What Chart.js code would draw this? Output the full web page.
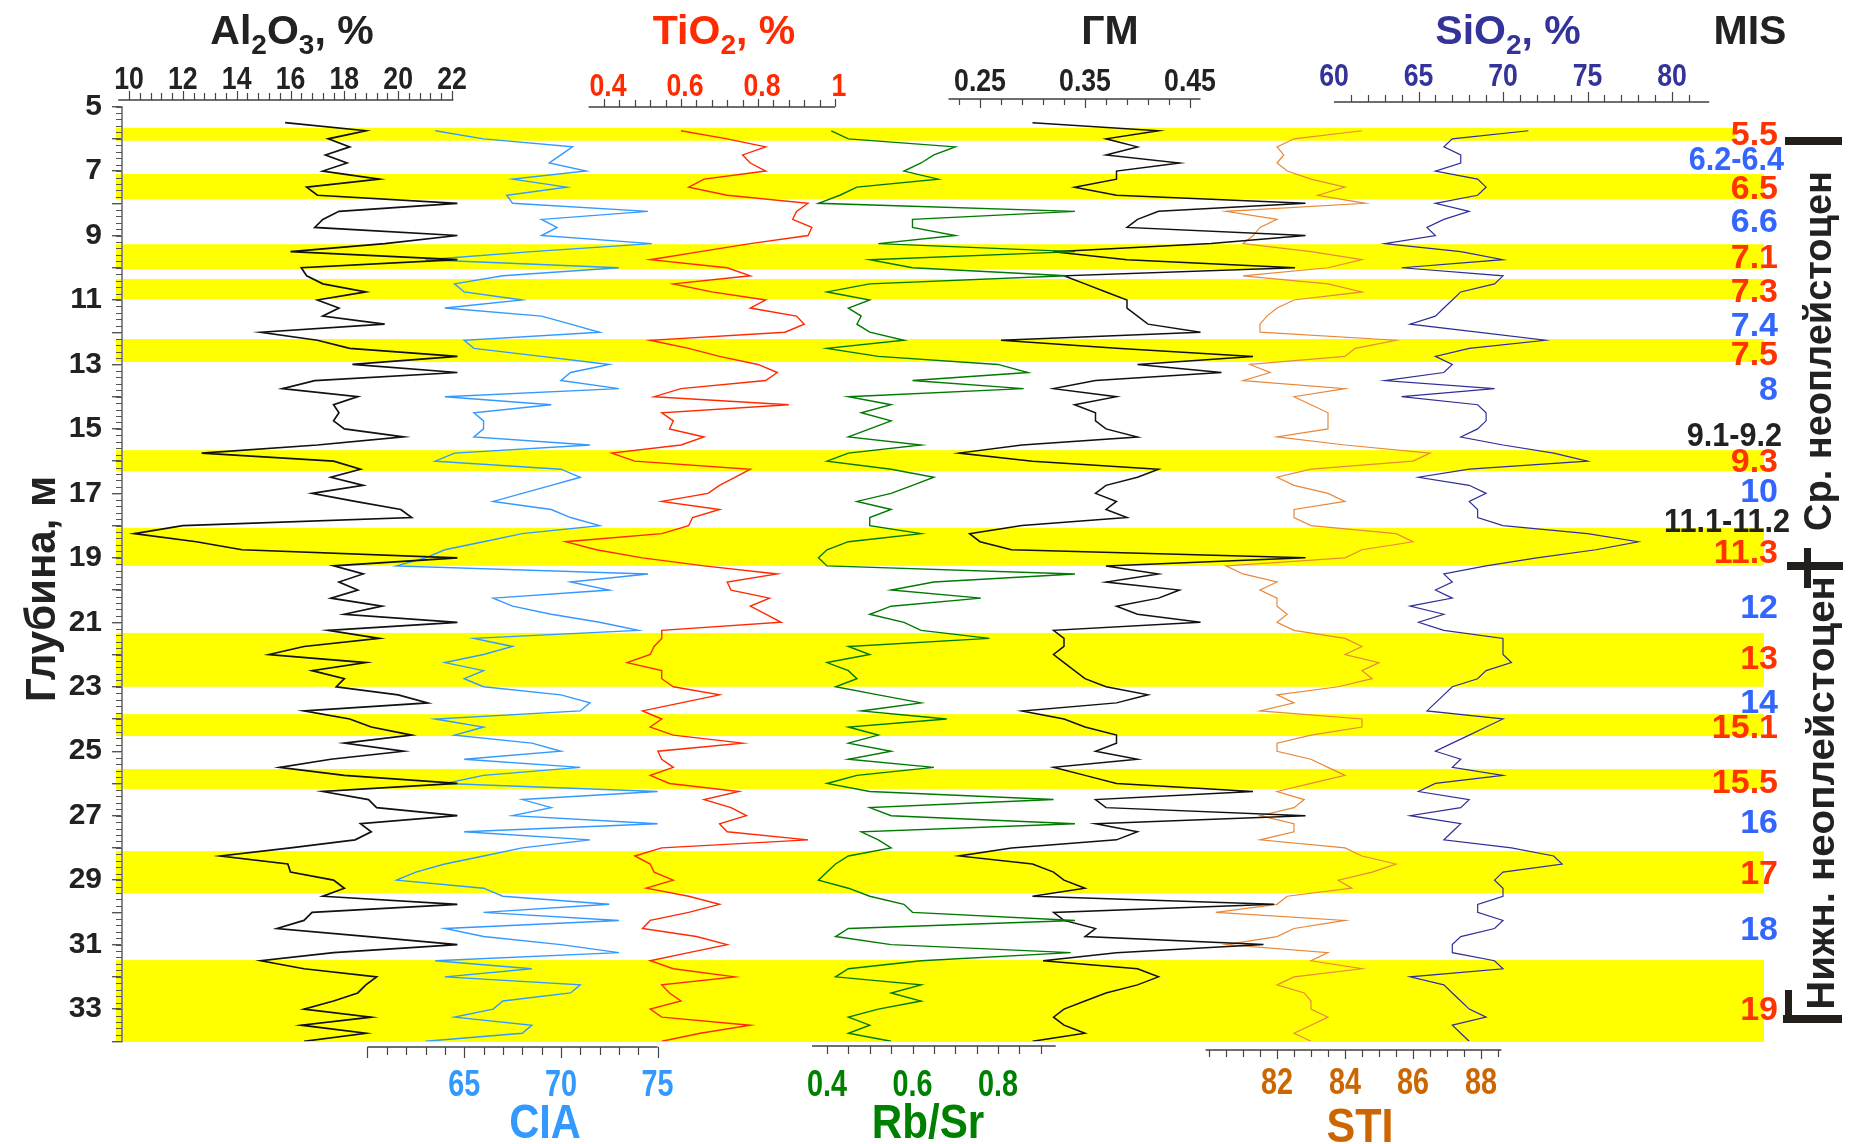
<!DOCTYPE html>
<html><head><meta charset="utf-8">
<script src="https://cdn.jsdelivr.net/npm/chart.js@4.4.1/dist/chart.umd.min.js"></script>
<style>html,body{margin:0;padding:0;background:#fff;}#wrap{width:1857px;height:1144px;}</style>
</head><body><div id="wrap"><canvas id="c" width="1857" height="1144"></canvas></div>
<script>
// ---------- DATA ----------
const depth = [5.5,5.75,6,6.25,6.5,6.75,7,7.25,7.5,7.75,8,8.25,8.5,8.75,9,9.25,9.5,9.75,10,10.25,10.5,10.75,11,11.25,11.5,11.75,12,12.25,12.5,12.75,13,13.25,13.5,13.75,14,14.25,14.5,14.75,15,15.25,15.5,15.75,16,16.25,16.5,16.75,17,17.25,17.5,17.75,18,18.25,18.5,18.75,19,19.25,19.5,19.75,20,20.25,20.5,20.75,21,21.25,21.5,21.75,22,22.25,22.5,22.75,23,23.25,23.5,23.75,24,24.25,24.5,24.75,25,25.25,25.5,25.75,26,26.25,26.5,26.75,27,27.25,27.5,27.75,28,28.25,28.5,28.75,29,29.25,29.5,29.75,30,30.25,30.5,30.75,31,31.25,31.5,31.75,32,32.25,32.5,32.75,33,33.25,33.5,33.75,34];

const al2o3 = [15.8,18.8, 17.4,18.2,17.3,18.1, 17.2,19.3,16.6,17.0, 22.2,17.8,17.2,16.9, 22.2,19.5,16.0,22.2, 16.4,16.6,17.2,18.8, 17.0,17.8,17.2,19.5, 14.9,17.0,18.2,22.2, 18.3,22.2,16.9,15.7, 18.5,17.6,17.8,17.6, 18.0,20.2,17.0,12.7, 17.6,18.6,17.5,18.7, 16.8,18.4,20.1,20.5, 12.0,10.2,12.5,14.2, 22.2,17.6,18.7,17.8, 18.5,17.5,19.4,18.0, 22.2,17.4,19.3,16.5, 15.2,18.8,16.8,18.0, 17.7,20.0,21.1,16.5, 18.2,19.0,20.5,18.0, 20.2,17.5,15.6,18.0, 22.2,17.2,18.9,19.2, 22.2,18.6,19.0,18.4, 16.0,13.4,15.9,16.0, 17.6,18.0,17.2,22.2, 16.8,16.5,15.5,18.9, 22.2,17.6,14.9,16.5, 19.2,18.8,18.5,17.6, 16.5,19.0,16.4,18.8, 16.5];

const cia = [null,63.5, 66.0,70.6,70.0,69.4, 71.3,67.5,70.3,67.2, 67.5,74.5,69.0,69.8, 69.0,74.7,68.5,63.0, 73.0,67.0,64.5,65.0, 68.0,64.0,69.0,70.5, 72.0,65.0,65.5,69.0, 72.5,70.5,70.0,73.0, 64.0,69.5,65.5,66.0, 66.0,65.5,71.5,64.5, 63.5,70.0,71.0,69.5, 68.0,66.5,69.5,70.5, 72.0,68.0,66.0,64.0, 63.0,61.5,74.5,70.5, 72.5,66.5,67.5,69.5, 72.0,74.0,65.5,67.5, 66.0,64.0,66.0,65.0, 66.0,70.0,71.5,71.0, 63.5,66.0,64.5,68.5, 70.0,65.0,71.0,66.0, 64.0,75.0,68.0,69.5, 67.5,75.0,65.0,71.5, 68.0,66.0,64.0,62.5, 61.5,66.0,67.0,72.5, 66.0,73.0,64.0,66.0, 70.0,73.0,63.5,68.5, 64.0,71.0,70.5,67.0, 66.5,64.5,68.5,68.0, 63.0];

const tio2 = [null,0.60, 0.72,0.82,0.76,0.78, 0.82,0.66,0.62,0.72, 0.93,0.90,0.89,0.94, 0.93,0.78,0.65,0.52, 0.72,0.78,0.58,0.68, 0.82,0.78,0.90,0.92, 0.87,0.52,0.62,0.70, 0.80,0.85,0.82,0.60, 0.53,0.88,0.55,0.58, 0.57,0.66,0.60,0.42, 0.48,0.78,0.74,0.70, 0.67,0.55,0.70,0.63, 0.62,0.55,0.30,0.38, 0.50,0.66,0.85,0.72, 0.73,0.83,0.78,0.82, 0.86,0.55,0.55,0.53, 0.52,0.46,0.55,0.55, 0.58,0.70,0.60,0.50, 0.55,0.52,0.58,0.76, 0.54,0.55,0.58,0.52, 0.57,0.75,0.66,0.73, 0.77,0.70,0.72,0.93, 0.55,0.48,0.52,0.53, 0.58,0.51,0.62,0.70, 0.62,0.52,0.50,0.64, 0.72,0.62,0.52,0.58, 0.74,0.55,0.57,0.60, 0.52,0.55,0.78,0.65, 0.55];

const rbsr = [null,0.41, 0.45,0.70,0.65,0.62, 0.58,0.66,0.47,0.43, 0.38,0.98,0.60,0.60, 0.70,0.52,0.98,0.50, 0.60,0.96,0.50,0.40, 0.50,0.45,0.48,0.47, 0.50,0.58,0.40,0.52, 0.80,0.87,0.60,0.86, 0.45,0.55,0.48,0.55, 0.50,0.45,0.62,0.45, 0.40,0.55,0.65,0.60, 0.55,0.47,0.55,0.50, 0.50,0.62,0.45,0.40, 0.38,0.40,0.98,0.65, 0.55,0.76,0.55,0.50, 0.58,0.62,0.78,0.45, 0.50,0.40,0.45,0.47, 0.42,0.52,0.62,0.48, 0.68,0.45,0.52,0.45, 0.55,0.45,0.65,0.47, 0.40,0.50,0.93,0.50, 0.55,0.98,0.48,0.52, 0.55,0.45,0.42,0.40, 0.38,0.45,0.50,0.58, 0.60,0.98,0.45,0.42, 0.55,0.97,0.62,0.45, 0.42,0.62,0.55,0.62, 0.52,0.45,0.50,0.45, 0.55];

const gm = [0.30,0.42, 0.37,0.40,0.37,0.44, 0.38,0.38,0.34,0.38, 0.56,0.42,0.40,0.39, 0.56,0.47,0.32,0.39, 0.55,0.33,0.35,0.37, 0.39,0.39,0.40,0.41, 0.46,0.27,0.38,0.51, 0.40,0.48,0.36,0.32, 0.38,0.34,0.36,0.36, 0.37,0.40,0.29,0.23, 0.30,0.42,0.40,0.37, 0.36,0.38,0.37,0.39, 0.29,0.24,0.25,0.28, 0.56,0.37,0.42,0.37, 0.44,0.42,0.38,0.40, 0.46,0.32,0.33,0.33, 0.32,0.33,0.34,0.35, 0.37,0.41,0.38,0.29, 0.33,0.35,0.38,0.38, 0.36,0.40,0.32,0.35, 0.38,0.51,0.36,0.37, 0.56,0.36,0.40,0.38, 0.28,0.23,0.30,0.32, 0.33,0.35,0.30,0.53, 0.32,0.33,0.36,0.35, 0.52,0.38,0.31,0.40, 0.42,0.40,0.37,0.35, 0.33,0.32,0.33,0.35, 0.30];

const sti = [null,84.5, 82.5,82.0,82.2,82.0, 82.3,83.0,84.0,83.2, 84.6,80.5,82.0,81.5, 81.3,81.0,83.0,84.5, 83.5,81.0,83.5,84.5, 82.5,82.0,81.7,81.5, 81.5,85.5,84.3,84.0, 81.2,81.8,81.0,84.0, 82.5,83.0,83.5,83.5, 83.5,82.0,84.0,86.5, 86.0,83.0,82.0,82.5, 83.5,84.0,82.5,82.5, 83.0,85.5,86.0,84.5, 84.0,80.5,81.0,82.0, 81.5,82.0,82.0,82.3, 82.0,82.5,84.0,84.5, 84.0,85.0,84.5,84.8, 83.8,82.0,82.5,81.5, 84.5,84.5,83.0,82.0, 82.0,83.0,83.5,84.0, 83.0,82.0,82.8,82.5, 81.5,82.5,82.5,81.5, 84.0,84.5,85.5,84.8, 83.8,84.2,82.3,82.0, 80.2,84.0,82.5,82.0, 80.5,83.5,83.0,84.5, 82.5,82.0,82.8,83.0, 83.0,83.5,83.0,82.5, 83.0];

const sio2 = [null,71.5, 67.0,66.5,67.5,67.5, 66.0,68.5,69.0,68.5, 66.0,68.0,66.5,65.5, 66.0,63.0,67.5,70.0, 64.0,70.0,69.5,67.5, 67.0,66.5,66.0,64.5, 68.5,72.5,68.0,66.0, 67.0,66.5,63.0,69.5, 64.0,68.5,69.0,69.0, 68.5,67.5,70.0,73.0, 75.0,68.0,65.0,68.0, 69.0,68.0,68.5,68.5, 70.0,75.0,78.0,75.5, 72.0,69.0,66.5,67.0, 66.0,67.0,64.5,66.5, 65.0,66.5,70.0,70.0, 70.0,70.5,69.0,68.5, 67.0,66.5,66.0,65.5, 70.0,69.0,68.0,67.0, 66.0,67.5,67.0,70.0, 66.0,65.0,68.0,67.5, 64.5,67.5,67.0,66.5, 70.5,73.0,73.5,70.0, 69.5,70.0,70.0,68.5, 68.5,70.0,69.5,67.5, 67.0,67.0,69.5,70.0, 64.5,66.5,67.0,67.5, 68.0,69.0,67.0,67.5, 68.0];

// MIS stages (yellow = warm stages), depth intervals
const misBands = [[5.66,6.06],[7.09,7.87],[9.27,10.05],[10.35,10.97],[12.21,12.92],[15.66,16.31],[18.07,19.25],[21.33,23.0],[23.85,24.53],[25.55,26.17],[28.1,29.4],[31.48,34.02]];
const misLabels = ['5.5','6.2-6.4','6.5','6.6','7.1','7.3','7.4','7.5','8','9.1-9.2','9.3','10','11.1-11.2','11.3','12','13','14','15.1','15.5','16','17','18','19'];
const misLabelDepth = [5.88,6.63,7.53,8.58,9.70,10.75,11.81,12.71,13.79,15.22,16.0,16.96,17.89,18.85,20.53,22.14,23.50,24.28,25.96,27.23,28.81,30.52,33.03];
const misKind = ['w','c','w','c','w','w','c','w','c','t','w','c','t','w','c','w','c','w','w','c','w','c','w'];

// tick labels
const alTicks = [10,12,14,16,18,20,22];
const tiTicks = [0.4,0.6,0.8,1];
const gmTicks = [0.25,0.35,0.45];
const siTicks = [60,65,70,75,80];
const ciaTicks = [65,70,75];
const rbTicks = [0.4,0.6,0.8];
const stiTicks = [82,84,86,88];

// ---------- LAYOUT ----------
const FONT = '"Liberation Sans", Arial, "DejaVu Sans", sans-serif';
const L = 122, R = 1765, TOP = 106.6, BOT = 1041.3;
function span(v0,p0,v1,p1){const k=(v1-v0)/(p1-p0);return {min:v0-(p0-L)*k,max:v0+(R-p0)*k};}
const xr = {
  xAl: span(10,129,22,452),
  xCia: span(60,367.5,75,657.6),
  xTi: span(0.4,604,1.0,835),
  xRb: span(0.4,827,0.8,998),
  xGm: span(0.25,980,0.45,1190),
  xSti: span(82,1277,88,1481),
  xSi: span(60,1334,80,1672)
};

function pts(vals){ const a=[]; depth.forEach((d,i)=>{ if(vals[i]!==null) a.push({x:vals[i], y:d}); }); return a; }
function ds(label, vals, axis, color, w){
  return {label, data: pts(vals), xAxisID: axis, yAxisID:'y', borderColor: color, backgroundColor: color,
    borderWidth: w, pointRadius: 0, pointHoverRadius: 0, fill: false, tension: 0, spanGaps: false};
}

function txt(ctx, s, x, y, size, color, align, sx, base){
  ctx.save(); ctx.font = 'bold ' + size + 'px ' + FONT; ctx.fillStyle = color;
  ctx.textAlign = align || 'center'; ctx.textBaseline = base || 'alphabetic';
  ctx.translate(x, y); ctx.scale(sx || 1, 1); ctx.fillText(s, 0, 0); ctx.restore();
}
function rich(ctx, parts, cx, y, size, color){
  const sub = Math.round(size*0.68);
  ctx.save(); ctx.fillStyle = color; ctx.textBaseline = 'alphabetic'; ctx.textAlign = 'left';
  let total = 0; const w = [];
  parts.forEach(p => { ctx.font = 'bold ' + (p[1]?sub:size) + 'px ' + FONT; const m = ctx.measureText(p[0]).width; w.push(m); total += m; });
  let x = cx - total/2;
  parts.forEach((p,i) => { ctx.font = 'bold ' + (p[1]?sub:size) + 'px ' + FONT; ctx.fillText(p[0], x, p[1] ? y + size*0.24 : y); x += w[i]; });
  ctx.restore();
}
function vtext(ctx, s, cx, cy, size, color, stretch){
  ctx.save(); ctx.translate(cx, cy); ctx.rotate(-Math.PI/2); ctx.scale(stretch || 1, 1);
  ctx.font = 'bold ' + size + 'px ' + FONT;
  ctx.fillStyle = color; ctx.textAlign = 'center'; ctx.textBaseline = 'middle'; ctx.fillText(s, 0, 0); ctx.restore();
}
function axisSeg(ctx, sc, y, from, to, start, step, n, dir, len, majors, majLen){
  const p = v => sc.getPixelForValue(v);
  ctx.save(); ctx.strokeStyle = '#6e6e6e'; ctx.lineWidth = 2;
  ctx.beginPath(); ctx.moveTo(p(from), y); ctx.lineTo(p(to), y); ctx.stroke();
  ctx.strokeStyle = '#444'; ctx.lineWidth = 1.2;
  for (let i = 0; i < n; i++) {
    const v = start + i*step; const isMaj = majors.some(m => Math.abs(m - v) < 1e-6);
    const x = Math.round(p(v)) + 0.5; const l = isMaj ? majLen : len;
    ctx.beginPath(); ctx.moveTo(x, y); ctx.lineTo(x, y + dir*l); ctx.stroke();
  }
  ctx.restore();
}

const deco = {
  id: 'deco',
  beforeDraw(chart){
    const ctx = chart.ctx, y = chart.scales.y;
    ctx.save(); ctx.fillStyle = '#ffff00';
    misBands.forEach((b,i) => {
      const y0 = y.getPixelForValue(b[0]), y1 = y.getPixelForValue(b[1]);
      const right = i === 0 ? 1735 : 1764;
      ctx.fillRect(L - 6, y0, right - (L - 6), y1 - y0);
    });
    ctx.restore();
  },
  afterDraw(chart){
    const ctx = chart.ctx, s = chart.scales, y = s.y;
    // minor depth ticks
    ctx.save(); ctx.strokeStyle = '#555'; ctx.lineWidth = 1;
    for (let i = 0; i <= 145; i++) { const d = 5 + i*0.2; const py = Math.round(y.getPixelForValue(d)) + 0.5;
      ctx.beginPath(); ctx.moveTo(L - 6, py); ctx.lineTo(L, py); ctx.stroke(); }
    ctx.restore();
    // top axes
    axisSeg(ctx, s.xAl, 100, 9.6, 22.05, 10, 0.4, 31, -1, 7, alTicks, 9);
    alTicks.forEach(v => txt(ctx, String(v), s.xAl.getPixelForValue(v), 89, 31, '#222', 'center', 0.86));
    axisSeg(ctx, s.xTi, 107, 0.36, 1.0, 0.4, 0.04, 16, -1, 7, [0.4,0.6,0.8,1.0], 8);
    tiTicks.forEach(v => txt(ctx, String(v), s.xTi.getPixelForValue(v) + 4, 96, 31, '#ff2a00', 'center', 0.86));
    axisSeg(ctx, s.xGm, 99, 0.22, 0.46, 0.23, 0.02, 12, 1, 6, [0.25,0.35,0.45], 9);
    gmTicks.forEach(v => txt(ctx, String(v), s.xGm.getPixelForValue(v), 91, 31, '#222', 'center', 0.86));
    axisSeg(ctx, s.xSi, 102, 60, 82.2, 61, 1, 21, -1, 7, [65,70,75,80], 10);
    siTicks.forEach(v => txt(ctx, String(v), s.xSi.getPixelForValue(v), 86, 31, '#333399', 'center', 0.86));
    // bottom axes
    axisSeg(ctx, s.xCia, 1047, 60, 75, 60, 1, 16, 1, 8, [60,65,70,75], 11);
    ciaTicks.forEach(v => txt(ctx, String(v), s.xCia.getPixelForValue(v), 1096, 36, '#3399ff', 'center', 0.8));
    axisSeg(ctx, s.xRb, 1046, 0.365, 0.935, 0.4, 0.05, 11, 1, 8, [0.4,0.6,0.8], 8);
    rbTicks.forEach(v => txt(ctx, String(v), s.xRb.getPixelForValue(v), 1096, 36, '#008000', 'center', 0.8));
    axisSeg(ctx, s.xSti, 1050, 79.9, 88.6, 80, 0.5, 18, 1, 7, [82,84,86,88], 9);
    stiTicks.forEach(v => txt(ctx, String(v), s.xSti.getPixelForValue(v), 1094, 36, '#cc6600', 'center', 0.8));
    // titles
    rich(ctx, [['Al',0],['2',1],['O',0],['3',1],[', %',0]], 292, 44, 41, '#222');
    rich(ctx, [['TiO',0],['2',1],[', %',0]], 724, 44, 41, '#ff2a00');
    rich(ctx, [['ГМ',0]], 1110, 44, 41, '#222');
    rich(ctx, [['SiO',0],['2',1],[', %',0]], 1508, 44, 41, '#333399');
    rich(ctx, [['MIS',0]], 1750, 44, 41, '#222');
    txt(ctx, 'CIA', 545, 1138, 49, '#3399ff', 'center', 0.85);
    txt(ctx, 'Rb/Sr', 928, 1138, 49, '#008000', 'center', 0.86);
    txt(ctx, 'STI', 1360, 1142, 49, '#cc6600', 'center', 0.88);
    vtext(ctx, 'Глубина, м', 43, 589, 42, '#222', 1.0);
    // MIS labels
    const col = {w:'#ff3300', c:'#3366ff', t:'#222'};
    misLabels.forEach((t,i) => {
      let rx = 1778; if (t === '11.1-11.2') rx = 1790; else if (t === '6.2-6.4') rx = 1784; else if (t === '9.1-9.2') rx = 1782;
      txt(ctx, t, rx, y.getPixelForValue(misLabelDepth[i]) + 1, 34, col[misKind[i]], 'right', t.length > 5 ? 0.9 : 1, 'middle');
    });
    // stratigraphic brackets
    ctx.save(); ctx.fillStyle = '#231f1c';
    ctx.fillRect(1785, 137, 57, 8);
    ctx.fillRect(1787, 562, 56, 8); ctx.fillRect(1804, 548, 7, 40);
    ctx.fillRect(1783, 1015, 59, 8); ctx.fillRect(1785, 990, 7, 27);
    ctx.restore();
    vtext(ctx, 'Ср. неоплейстоцен', 1821, 351, 38, '#222', 1.0);
    vtext(ctx, 'Нижн. неоплейстоцен', 1823, 793, 39, '#222', 1.03);
  }
};

const scales = {
  y: { type:'linear', reverse:true, min:5, max:34, position:'left',
    afterFit(sc){ sc.width = L; },
    ticks:{ stepSize:1, autoSkip:false, padding:10, color:'#222',
      font:{ size:30, weight:'bold', family:FONT },
      callback: v => (Math.abs(v % 2) === 1 ? String(v) : '') },
    grid:{ drawOnChartArea:false, drawTicks:true, tickLength:10, color:'#555', lineWidth:1.4 },
    border:{ display:true, color:'#8a8a8a', width:2 } }
};
Object.keys(xr).forEach(k => { scales[k] = { type:'linear', axis:'x', display:false, bounds:'data', min:xr[k].min, max:xr[k].max }; });

new Chart(document.getElementById('c'), {
  type: 'line',
  data: { datasets: [
    ds('Al2O3, %', al2o3, 'xAl', '#111111', 1.7),
    ds('CIA', cia, 'xCia', '#3399ff', 1.4),
    ds('TiO2, %', tio2, 'xTi', '#ff2a00', 1.4),
    ds('Rb/Sr', rbsr, 'xRb', '#007a00', 1.4),
    ds('ГМ', gm, 'xGm', '#111111', 1.5),
    ds('STI', sti, 'xSti', '#e8883a', 1.2),
    ds('SiO2, %', sio2, 'xSi', '#2e2e99', 1.2)
  ]},
  options: {
    responsive: false, animation: false, devicePixelRatio: 1, indexAxis: 'y',
    layout: { padding: { left: 0, right: 1857 - R, top: TOP, bottom: 1144 - BOT } },
    plugins: { legend: { display: false }, tooltip: { enabled: false } },
    events: [],
    scales
  },
  plugins: [deco]
});
</script></body></html>
